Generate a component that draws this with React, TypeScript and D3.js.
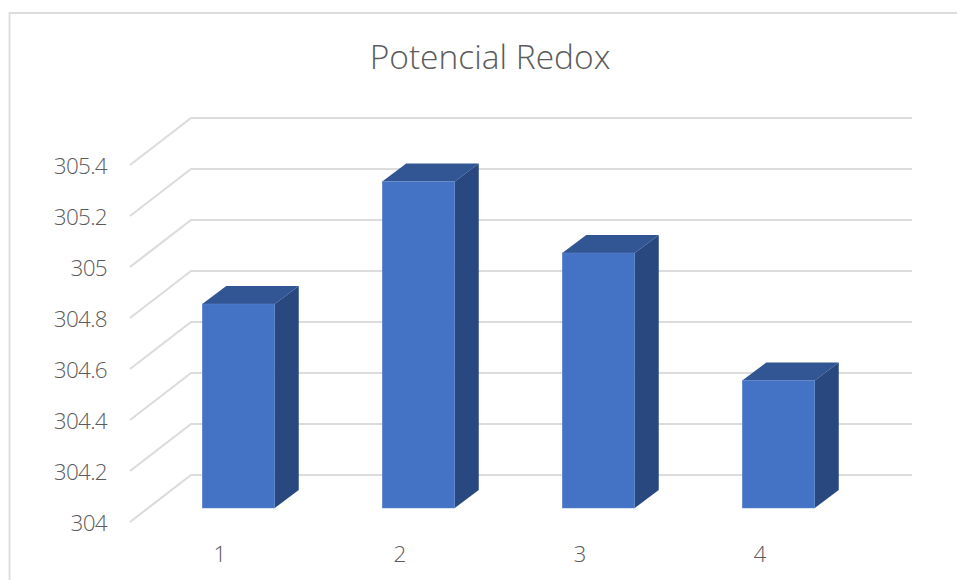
import React from "react";
import * as d3 from "d3";

const categories = ["1", "2", "3", "4"];
const redoxValues = [304.8, 305.28, 305.0, 304.5];
const axisTicks = [304, 304.2, 304.4, 304.6, 304.8, 305, 305.2, 305.4];
const chartTitle = "Potencial Redox";

const WIDTH = 957;
const HEIGHT = 580;
const FONT = "'Open Sans', sans-serif";
const GRID = "#dcdcdc";
const TEXT = "#5a5a5a";

// Oblique depth of the chart floor and of each bar.
const FLOOR_DX = 61;
const FLOOR_DY = 47;
const BAR_DX = 24;
const BAR_DY = 18;
const BAR_WIDTH = 72.5;

// Values map onto the front plane of the 3D box.
const y = d3.scaleLinear().domain([304, 305.4]).range([522, 165]);
const x = d3.scaleBand<string>().domain(categories).range([130, 850]);

// Bars stand midway through the floor's depth.
const barFrontShift = (FLOOR_DX - BAR_DX) / 2;
const barRise = 14;

const pts = (p: [number, number][]) => p.map((q) => q.join(",")).join(" ");

export default function App() {
  return (
    <svg
      width={WIDTH}
      height={HEIGHT}
      viewBox={`0 0 ${WIDTH} ${HEIGHT}`}
      style={{ position: "absolute", left: 0, top: 0, background: "#fff" }}
    >
      {/* Chart frame: only the top and left edges fall inside the view */}
      <path d={`M9.5 580V13H957`} fill="none" stroke={GRID} strokeWidth={1.8} />

      {/* Gridlines run along the side wall, then across the back wall */}
      {axisTicks.map((t) => (
        <polyline
          key={t}
          points={pts([
            [130, y(t)],
            [130 + FLOOR_DX, y(t) - FLOOR_DY],
            [912, y(t) - FLOOR_DY],
          ])}
          fill="none"
          stroke={GRID}
          strokeWidth={2.2}
        />
      ))}

      {categories.map((c, i) => {
        const band = x(c) as number;
        const left = band + x.bandwidth() / 2 - BAR_WIDTH / 2 + barFrontShift;
        const right = left + BAR_WIDTH;
        const top = y(redoxValues[i]) - barRise;
        const bottom = y(304) - barRise;
        return (
          <g key={c}>
            <polygon
              points={pts([
                [left, top],
                [left + BAR_DX, top - BAR_DY],
                [right + BAR_DX, top - BAR_DY],
                [right, top],
              ])}
              fill="#325594"
            />
            <polygon
              points={pts([
                [right, top],
                [right + BAR_DX, top - BAR_DY],
                [right + BAR_DX, bottom - BAR_DY],
                [right, bottom],
              ])}
              fill="#29487f"
            />
            <rect
              x={left}
              y={top}
              width={BAR_WIDTH}
              height={bottom - top}
              fill="#4472c4"
              stroke="#5f86cc"
              strokeWidth={0.5}
            />
          </g>
        );
      })}

      {/* All text shares one group so it is antialiased in plain greys */}
      <g opacity={0.99} fontFamily={FONT} fontWeight={300} fill={TEXT}>
        <text x={490} y={69} textAnchor="middle" fontSize={33.5}>
          {chartTitle}
        </text>

        {axisTicks.map((t) => (
          <text
            key={t}
            x={107}
            y={y(t) + 9}
            textAnchor="end"
            fontSize={22.5}
            letterSpacing={-0.7}
          >
            {String(t)}
          </text>
        ))}

        {categories.map((c) => (
          <text
            key={c}
            x={(x(c) as number) + x.bandwidth() / 2}
            y={562}
            textAnchor="middle"
            fontSize={22.5}
          >
            {c}
          </text>
        ))}
      </g>
    </svg>
  );
}
